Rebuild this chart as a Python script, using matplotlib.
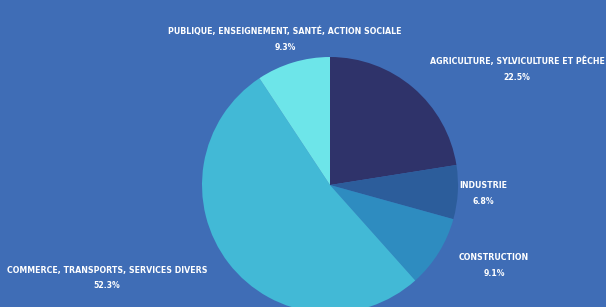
import matplotlib
matplotlib.use('Agg')
import matplotlib.pyplot as plt

# data
sectors = ['AGRICULTURE, SYLVICULTURE ET PÊCHE', 'INDUSTRIE', 'CONSTRUCTION',
           'COMMERCE, TRANSPORTS, SERVICES DIVERS',
           'PUBLIQUE, ENSEIGNEMENT, SANTÉ, ACTION SOCIALE']
shares = [22.5, 6.8, 9.1, 52.3, 9.3]
colors = ['#2f336a', '#2c5d9b', '#2e8cc0', '#42b9d6', '#6de5e9']

# label anchor positions in pixels (centre x, title y)
label_px = [(517, 61), (483, 186), (494, 258), (107, 270), (285, 31)]

BG = '#3f6db6'
W, H = 606, 307
CX, CY, R = 330, 185, 128


def to_data(px, py):
    return (px - CX) / R, (CY - py) / R


def main():
    fig = plt.figure(figsize=(W / 100, H / 100), dpi=100, facecolor=BG)
    ax = fig.add_axes([0, 0, 1, 1])
    ax.set_facecolor(BG)

    ax.pie(shares, colors=colors, startangle=90, counterclock=False,
           radius=1, center=(0, 0), wedgeprops={'linewidth': 0})
    ax.set_xlim(-CX / R, (W - CX) / R)
    ax.set_ylim(-(H - CY) / R, CY / R)
    ax.set_aspect('auto')
    ax.axis('off')

    font = dict(family='DejaVu Sans', stretch='condensed', weight='bold',
                color='white', ha='center', va='center')
    for name, val, (px, py) in zip(sectors, shares, label_px):
        x, y = to_data(px, py)
        ax.text(x, y, name, fontsize=6.3, **font)
        x2, y2 = to_data(px, py + 16)
        ax.text(x2, y2, '{:.1f}%'.format(val), fontsize=6.2, **font)

    fig.savefig('out.png', dpi=100, facecolor=BG)


if __name__ == '__main__':
    main()
